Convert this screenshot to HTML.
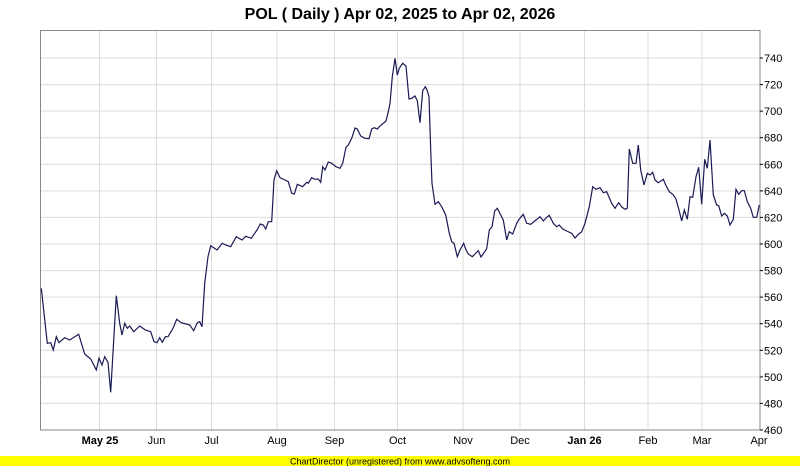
<!DOCTYPE html>
<html><head><style>
body{margin:0;background:#fff;}
svg{display:block;font-family:"Liberation Sans",sans-serif;}
</style></head><body>
<svg width="800" height="466" viewBox="0 0 800 466">
<rect width="800" height="466" fill="#fff"/>
<text x="400" y="19" text-anchor="middle" font-size="16" font-weight="bold" fill="#000">POL ( Daily ) Apr 02, 2025 to Apr 02, 2026</text>
<g stroke="#dcdcdc" stroke-width="1">
<line x1="40" x2="760" y1="403.4" y2="403.4"/><line x1="40" x2="760" y1="376.9" y2="376.9"/>
<line x1="40" x2="760" y1="350.3" y2="350.3"/><line x1="40" x2="760" y1="323.7" y2="323.7"/>
<line x1="40" x2="760" y1="297.1" y2="297.1"/><line x1="40" x2="760" y1="270.6" y2="270.6"/>
<line x1="40" x2="760" y1="244" y2="244"/><line x1="40" x2="760" y1="217.4" y2="217.4"/>
<line x1="40" x2="760" y1="190.9" y2="190.9"/><line x1="40" x2="760" y1="164.3" y2="164.3"/>
<line x1="40" x2="760" y1="137.7" y2="137.7"/><line x1="40" x2="760" y1="111.1" y2="111.1"/>
<line x1="40" x2="760" y1="84.6" y2="84.6"/><line x1="40" x2="760" y1="58" y2="58"/>
<line y1="30" y2="430" x1="99.5" x2="99.5"/><line y1="30" y2="430" x1="156.5" x2="156.5"/>
<line y1="30" y2="430" x1="211.5" x2="211.5"/><line y1="30" y2="430" x1="277" x2="277"/>
<line y1="30" y2="430" x1="334.5" x2="334.5"/><line y1="30" y2="430" x1="397.5" x2="397.5"/>
<line y1="30" y2="430" x1="463" x2="463"/><line y1="30" y2="430" x1="520" x2="520"/>
<line y1="30" y2="430" x1="584.5" x2="584.5"/><line y1="30" y2="430" x1="648" x2="648"/>
<line y1="30" y2="430" x1="702" x2="702"/>
</g>
<rect x="40.5" y="30.5" width="719.5" height="399.5" fill="none" stroke="#888" stroke-width="1"/>
<polyline fill="none" stroke="#1a1a55" stroke-width="1.2" points="41.3,288.3 47.3,343.3 50.7,342.7 53.3,350 56.3,336.7 59,342.7 64.7,337.7 69.7,340 78.7,334.3 84.7,354 90.7,359 96.3,370 99,358.3 102,365 104.7,356.7 108,362.3 110.7,392.3 116.3,295.7 119.7,323.3 122,335 124.7,323.3 127.3,328.3 129.7,326 133.7,331.7 139.7,326 145.3,330 150.7,331.7 154,341.7 157,342.7 159.7,337.7 162.3,342.3 165.3,336.7 168,336.7 173,328.3 176.7,319.3 181.3,322.7 186.3,324 189.7,325 193.7,330.7 197.3,322.7 199.7,321.7 202,326.7 204.7,283.3 208,256.7 210.7,245.7 217,250 222.3,243.3 225.7,245 230.7,246.7 236.3,236.7 242,240 245.7,236.3 251.3,238.3 254.7,233.3 257,230 260.3,224 263.3,225 265.7,229 268.3,221.7 271.7,221.7 274,180 276.7,170.7 280,177.7 285,180 288.3,181.7 291.7,193.3 294.3,194 297.3,184.3 302.7,186.7 306.7,182.3 308.3,183.3 311.7,177.7 315,179.3 318.3,179 320.7,182.3 322.7,166.7 325,170 328.3,162 331.7,163.3 336,166.7 340,168.3 342.7,163.3 346,147.3 348.3,145 351.7,138.3 355,128 357.3,129 360.7,136 365,138.3 369,138.7 371.7,129 374.3,127.7 377.3,129 380,126 383.3,123.3 386,121 388.3,111.7 390,103.3 392.3,76.7 395,58.3 397.3,75 399.3,68.3 402.7,63.3 406,66 409,99 411.7,98.3 415,96 417.3,100.7 420,122.7 422.7,90.7 425.3,86.7 427.3,90.7 429,96.7 430.7,150 432,183.3 435,204.3 438.3,201.7 441.7,206.7 445.7,215 449.3,233.3 451.7,241.7 454,243.3 457.3,256.7 460,250 463.7,243.3 466,250 468.3,254 472.3,256.7 475,254 478.3,250.7 481,257 484,252.7 486.7,248.7 489.3,230 492,226.7 494.7,211 497.3,208.3 500.7,215 503.3,220 506.7,240 509.3,231.7 512.7,234 516.7,223.3 519.3,219 523.3,214.3 526.7,223.3 530.7,224.3 536,220 540,216.7 543.3,221 546.7,217.3 549.3,215.3 553.3,223.3 556.7,226.7 559.3,225 562.7,229 566.7,231 571.7,233.3 575,238 578.3,234.3 581.7,231.7 585,223.3 589.3,206.7 592.7,186.7 596,189.3 600,187.7 603.3,192.7 606.7,191.7 611.7,203.3 615,208.3 618.7,202.7 622,207.3 625.3,209.3 627.3,208.3 629.3,149 632.7,163.3 636,163.3 638.3,145 640.7,170 644,185 647.3,173.3 650,175 652.7,172.3 655,180 658.3,182.7 663.3,179.3 665.7,185 669.3,191.7 672.7,194.3 675.7,198.3 679,210 681.7,221 684.3,210 687.3,219.3 690,196.7 692.7,197.3 696,176.7 698.7,167.3 701.7,204.3 704.7,159.3 707.3,168.3 710,140 713.3,195 716.7,205 718.7,205.7 721.7,216 724.3,213.3 727.3,216 730,225 733.3,219.3 736,189.3 738.7,194.3 741.7,190.7 744.3,190.7 747.3,201.7 750.7,208.3 753.3,217.3 756.7,217.3 759.3,205"/>
<g stroke="#000" stroke-width="1">
<line x1="760" x2="763" y1="430" y2="430"/><line x1="760" x2="763" y1="403.4" y2="403.4"/><line x1="760" x2="763" y1="376.9" y2="376.9"/><line x1="760" x2="763" y1="350.3" y2="350.3"/><line x1="760" x2="763" y1="323.7" y2="323.7"/><line x1="760" x2="763" y1="297.1" y2="297.1"/><line x1="760" x2="763" y1="270.6" y2="270.6"/><line x1="760" x2="763" y1="244" y2="244"/><line x1="760" x2="763" y1="217.4" y2="217.4"/><line x1="760" x2="763" y1="190.9" y2="190.9"/><line x1="760" x2="763" y1="164.3" y2="164.3"/><line x1="760" x2="763" y1="137.7" y2="137.7"/><line x1="760" x2="763" y1="111.1" y2="111.1"/><line x1="760" x2="763" y1="84.6" y2="84.6"/><line x1="760" x2="763" y1="58" y2="58"/>
</g>
<g font-size="11" fill="#000">
<text x="764" y="434">460</text><text x="764" y="407.4">480</text><text x="764" y="380.9">500</text><text x="764" y="354.3">520</text><text x="764" y="327.7">540</text><text x="764" y="301.1">560</text><text x="764" y="274.6">580</text><text x="764" y="248">600</text><text x="764" y="221.4">620</text><text x="764" y="194.9">640</text><text x="764" y="168.3">660</text><text x="764" y="141.7">680</text><text x="764" y="115.1">700</text><text x="764" y="88.6">720</text><text x="764" y="62">740</text>
</g>
<g font-size="11" fill="#000" text-anchor="middle">
<text x="100" y="444" font-weight="bold">May 25</text><text x="156.5" y="444">Jun</text><text x="211.5" y="444">Jul</text><text x="277" y="444">Aug</text><text x="334.5" y="444">Sep</text><text x="397.5" y="444">Oct</text><text x="463" y="444">Nov</text><text x="520" y="444">Dec</text><text x="584.5" y="444" font-weight="bold">Jan 26</text><text x="648" y="444">Feb</text><text x="702" y="444">Mar</text><text x="759" y="444">Apr</text>
</g>
<rect x="0" y="456" width="800" height="10" fill="#ffff00"/>
<text x="400" y="464.5" text-anchor="middle" font-size="9" fill="#000">ChartDirector (unregistered) from www.advsofteng.com</text>
</svg>
</body></html>
